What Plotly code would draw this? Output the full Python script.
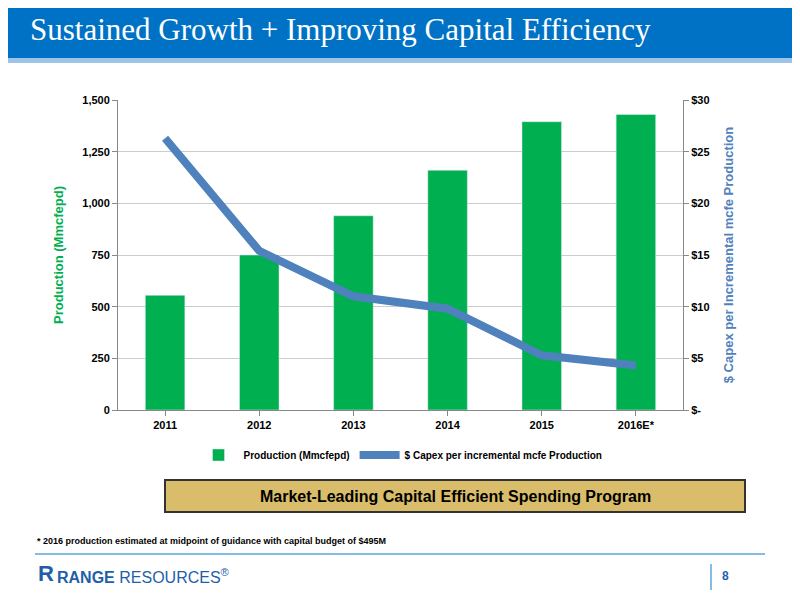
import plotly.graph_objects as go

years = ['2011', '2012', '2013', '2014', '2015', '2016E*']
production = [555, 750, 940, 1160, 1395, 1430]
capex = [26.3, 15.4, 11.0, 9.8, 5.3, 4.3]
left_ticks = [0, 250, 500, 750, 1000, 1250, 1500]
left_labels = ['<b>0</b>', '<b>250</b>', '<b>500</b>', '<b>750</b>', '<b>1,000</b>', '<b>1,250</b>', '<b>1,500</b>']
right_ticks = [0, 5, 10, 15, 20, 25, 30]
right_labels = ['<b>$-</b>', '<b>$5</b>', '<b>$10</b>', '<b>$15</b>', '<b>$20</b>', '<b>$25</b>', '<b>$30</b>']
x_labels = ['<b>' + y + '</b>' for y in years]

GREEN = '#00B050'
BLUE = '#4F81BD'
F = 'Liberation Sans, Arial, sans-serif'

# paper coords from screen pixel positions (plot area: x 118-683, y 100-410)
def px(x):
    return (x - 118) / 565

def py(y):
    return (410 - y) / 310

fig = go.Figure()
fig.add_trace(go.Bar(x=years, y=production, name='<b>Production (Mmcfepd)</b>',
                     marker_color=GREEN, width=0.42))
fig.add_trace(go.Scatter(x=years, y=capex, name='<b>$ Capex per incremental mcfe Production</b>',
                         yaxis='y2', mode='lines', line=dict(color=BLUE, width=8)))

fig.update_layout(
    width=800, height=600, plot_bgcolor='white', paper_bgcolor='white',
    margin=dict(l=110, r=125, t=92, b=198, autoexpand=False),
    font=dict(family=F, size=11, color='black'),
    xaxis=dict(showline=True, linecolor='#888', ticks='outside', tickcolor='#888',
               tickvals=years, ticktext=x_labels),
    yaxis=dict(range=[0, 1500], tickvals=left_ticks, ticktext=left_labels,
               showgrid=True, gridcolor='#ccc', showline=True, linecolor='#888',
               ticks='outside', tickcolor='#888', zeroline=False,
               title=dict(text='<b>Production (Mmcfepd)</b>', font=dict(color=GREEN, size=13))),
    yaxis2=dict(range=[0, 30], tickvals=right_ticks, ticktext=right_labels,
                overlaying='y', side='right', showgrid=False, showline=True,
                linecolor='#888', ticks='outside', tickcolor='#888', zeroline=False,
                title=dict(text='<b>$ Capex per Incremental mcfe Production</b>',
                           font=dict(color=BLUE, size=13))),
    legend=dict(orientation='h', x=0.5, xanchor='center', y=py(455), yanchor='middle',
                font=dict(size=10), itemwidth=40),
    showlegend=True,
)

fig.add_shape(type='rect', xref='paper', yref='paper', x0=px(-10), x1=px(810), y0=py(58), y1=py(-10),
              fillcolor='#0072C6', line_width=0, layer='below')
fig.add_shape(type='rect', xref='paper', yref='paper', x0=px(-10), x1=px(810), y0=py(63), y1=py(58),
              fillcolor='#9DC3E6', line_width=0)
fig.add_annotation(text='Sustained Growth + Improving Capital Efficiency', xref='paper', yref='paper',
                   x=px(28), y=py(29), xanchor='left', yanchor='middle', showarrow=False,
                   font=dict(family='Liberation Serif, serif', size=31, color='white'))
# gold banner
fig.add_shape(type='rect', xref='paper', yref='paper', x0=px(165), x1=px(745), y0=py(512), y1=py(480),
              fillcolor='#D9BD6A', line=dict(color='#333', width=2))
fig.add_annotation(text='<b>Market-Leading Capital Efficient Spending Program</b>', xref='paper',
                   yref='paper', x=px(455), y=py(496), yanchor='middle', showarrow=False,
                   font=dict(size=16))
fig.add_annotation(text='<b>* 2016 production estimated at midpoint of guidance with capital budget of $495M</b>',
                   xref='paper', yref='paper', x=px(35), y=py(548), xanchor='left', showarrow=False,
                   font=dict(size=9))
fig.add_shape(type='line', xref='paper', yref='paper', x0=px(35), x1=px(765), y0=py(554), y1=py(554),
              line=dict(color='#5BA8DE', width=1.5))
fig.add_shape(type='line', xref='paper', yref='paper', x0=px(711), x1=px(711), y0=py(564), y1=py(590),
              line=dict(color='#5BA8DE', width=1.5))
fig.add_annotation(text='<b>8</b>', xref='paper', yref='paper', x=px(720), y=py(585), showarrow=False,
                   xanchor='left', font=dict(size=12, color='#1F5FA8'))
fig.add_annotation(text='<b>R</b>', xref='paper', yref='paper', x=px(36), y=py(588), showarrow=False,
                   xanchor='left', font=dict(size=22, color='#1F5FA8'))
fig.add_annotation(text='<b>RANGE</b> RESOURCES<sup>®</sup>', xref='paper', yref='paper', x=px(55),
                   y=py(588), showarrow=False, xanchor='left', font=dict(size=16, color='#1F5FA8'))

fig.write_html('out.html')
